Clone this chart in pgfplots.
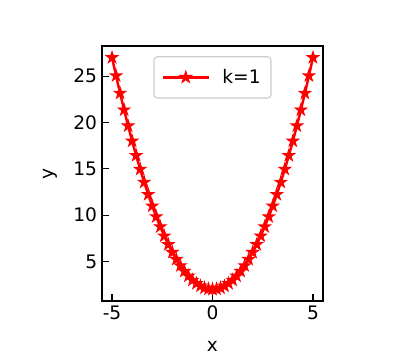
\documentclass[border=0pt]{standalone}
\usepackage{fontspec}
\setmainfont{DejaVu Sans}
\usepackage{pgfplots}
\pgfplotsset{compat=1.18}
\pgfdeclareplotmark{mplstar}{%
  \pgfpathmoveto{\pgfpointpolar{90}{\pgfplotmarksize}}%
  \pgfpathlineto{\pgfpointpolar{126}{0.382\pgfplotmarksize}}%
  \pgfpathlineto{\pgfpointpolar{162}{\pgfplotmarksize}}%
  \pgfpathlineto{\pgfpointpolar{198}{0.382\pgfplotmarksize}}%
  \pgfpathlineto{\pgfpointpolar{234}{\pgfplotmarksize}}%
  \pgfpathlineto{\pgfpointpolar{270}{0.382\pgfplotmarksize}}%
  \pgfpathlineto{\pgfpointpolar{306}{\pgfplotmarksize}}%
  \pgfpathlineto{\pgfpointpolar{342}{0.382\pgfplotmarksize}}%
  \pgfpathlineto{\pgfpointpolar{18}{\pgfplotmarksize}}%
  \pgfpathlineto{\pgfpointpolar{54}{0.382\pgfplotmarksize}}%
  \pgfpathclose
  \pgfusepathqfillstroke
}
\begin{document}
\begin{tikzpicture}
\path[use as bounding box] (0,0) rectangle (292.32pt,256.32pt);
\begin{axis}[
  at={(73.44pt,39.6pt)}, anchor=south west,
  scale only axis, width=159.12pt, height=183.6pt,
  xmin=-5.5, xmax=5.5, ymin=0.75, ymax=28.25,
  xtick={-5,0,5}, ytick={5,10,15,20,25},
  tick align=inside, tick pos=left,
  major tick length=4.7pt,
  every tick/.style={black, line width=0.8pt},
  axis line style={line width=0.8pt},
  /pgf/number format/assume math mode=true,
  tick label style={font=\fontsize{13.4}{16}\selectfont},
  label style={font=\fontsize{13.4}{16}\selectfont},
  xlabel={x}, ylabel={y},
  xlabel style={at={(axis description cs:0.5,-0.1797)}, anchor=center},
  ylabel style={at={(axis description cs:-0.2325,0.5)}, anchor=center},
  legend style={at={(axis description cs:0.5,0.96)}, anchor=north,
    draw=black!20, rounded corners=2.5pt, line width=0.8pt,
    font=\fontsize{13.4}{16}\selectfont, inner xsep=5.5pt, inner ysep=7pt,
    /tikz/every odd column/.style={column sep=7pt}},
  legend cell align=left,
  legend image code/.code={\draw[mark repeat=2,mark phase=2] plot coordinates {(0pt,0pt) (16.5pt,0pt) (33pt,0pt)};},
]
\addplot[red, line width=1.8pt, mark=mplstar, mark size=4.4pt,
  mark options={line width=0.7pt, fill=red, draw=red}] coordinates {
(-5.0,27) (-4.8,25.04) (-4.6,23.16) (-4.4,21.36) (-4.2,19.64) (-4.0,18)
(-3.8,16.44) (-3.6,14.96) (-3.4,13.56) (-3.2,12.24) (-3.0,11) (-2.8,9.84)
(-2.6,8.76) (-2.4,7.76) (-2.2,6.84) (-2.0,6) (-1.8,5.24) (-1.6,4.56)
(-1.4,3.96) (-1.2,3.44) (-1.0,3) (-0.8,2.64) (-0.6,2.36) (-0.4,2.16)
(-0.2,2.04) (0,2)
(0.2,2.04) (0.4,2.16) (0.6,2.36) (0.8,2.64) (1.0,3) (1.2,3.44) (1.4,3.96)
(1.6,4.56) (1.8,5.24) (2.0,6) (2.2,6.84) (2.4,7.76) (2.6,8.76) (2.8,9.84)
(3.0,11) (3.2,12.24) (3.4,13.56) (3.6,14.96) (3.8,16.44) (4.0,18)
(4.2,19.64) (4.4,21.36) (4.6,23.16) (4.8,25.04) (5.0,27)
};
\addlegendentry{k=1}
\end{axis}
\end{tikzpicture}
\end{document}
